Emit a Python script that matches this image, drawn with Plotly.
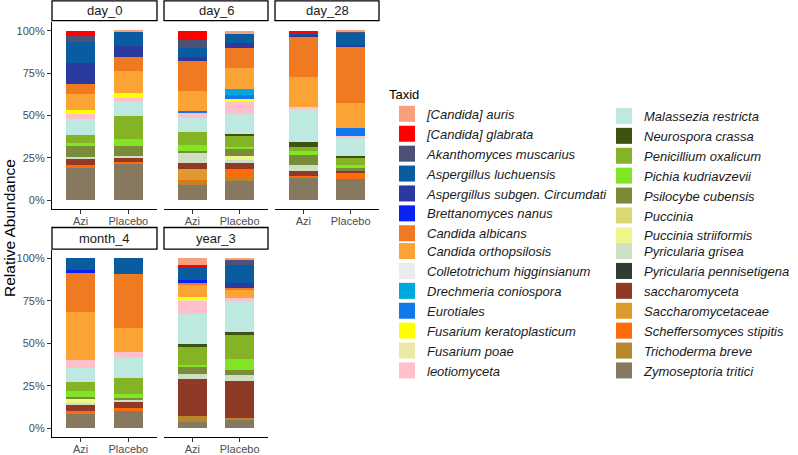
import plotly.graph_objects as go

taxa = ["[Candida] auris", "[Candida] glabrata", "Akanthomyces muscarius",
        "Aspergillus luchuensis", "Aspergillus subgen. Circumdati", "Brettanomyces nanus",
        "Candida albicans", "Candida orthopsilosis", "Colletotrichum higginsianum",
        "Drechmeria coniospora", "Eurotiales", "Fusarium keratoplasticum", "Fusarium poae",
        "leotiomyceta", "Malassezia restricta", "Neurospora crassa", "Penicillium oxalicum",
        "Pichia kudriavzevii", "Psilocybe cubensis", "Puccinia", "Puccinia striiformis",
        "Pyricularia grisea", "Pyricularia pennisetigena", "saccharomyceta",
        "Saccharomycetaceae", "Scheffersomyces stipitis", "Trichoderma breve",
        "Zymoseptoria tritici"]

colors = ["#F8A07E", "#FF0000", "#4B5275", "#0A5CA0", "#2B3A9F", "#0A22F0",
          "#F07A22", "#FCA336", "#EBEBEB", "#00A8E0", "#0F78EA", "#FFFF00", "#EBE9A6",
          "#FFC0CB", "#BDE9E0", "#3D5410", "#84B325", "#82E524", "#7A8C3A", "#DAD873",
          "#EEF58A", "#CFDFC4", "#333A33", "#8E3A26", "#DE9A2E", "#FF6A0A", "#B8862C",
          "#87795F"]

timepoints = ["day_0", "day_6", "day_28", "month_4", "year_3"]
groups = ["Azi", "Placebo"]
y_tickvals = [0, 0.25, 0.5, 0.75, 1.0]
y_ticktext = ["0%", "25%", "50%", "75%", "100%"]

# relative abundance (%) per taxon, in the order of `taxa`
day_0_azi = [0, 3.1, 3.3, 12.7, 12.2, 0, 6.3, 9.4, 0, 0, 0, 2.0, 0, 3.1, 9.4, 0, 4.7, 2.0, 6.3, 0, 0, 1.4, 0, 3.3, 0, 2.0, 0, 18.8]
day_0_placebo = [0.6, 0, 0, 8.4, 6.3, 0, 8.8, 12.9, 0, 0, 0, 2.5, 0, 2.2, 8.8, 0, 13.5, 4.1, 5.9, 0, 0, 1.2, 0, 2.4, 0, 0.8, 0.4, 21.2]
day_6_azi = [0, 5.3, 4.7, 5.7, 2.4, 0, 17.6, 12.0, 0, 0, 1.0, 0, 0, 2.9, 8.0, 0, 8.0, 3.5, 1.2, 0, 0, 5.7, 0, 3.7, 6.5, 0.6, 2.4, 8.8]
day_6_placebo = [2.2, 0, 0, 5.3, 2.5, 0, 12.0, 12.7, 0, 3.1, 2.7, 1.6, 0, 6.9, 12.0, 1.4, 6.3, 1.4, 3.7, 0, 2.7, 1.8, 0, 3.3, 0, 5.1, 2.2, 11.2]
day_28_azi = [0, 1.4, 0, 1.4, 0.6, 0, 23.7, 17.8, 0, 0, 0, 0, 0, 1.0, 20.0, 2.9, 2.2, 2.4, 6.1, 0, 0, 3.5, 0, 2.7, 0, 1.0, 0, 13.3]
day_28_placebo = [0.6, 0, 0.6, 7.1, 1.0, 0, 33.5, 14.5, 0, 0, 5.1, 0, 0, 0.6, 11.2, 0.8, 4.3, 1.8, 1.8, 0, 0, 0, 0, 1.4, 0, 3.5, 0, 12.2]
month_4_azi = [0, 0, 0, 7.1, 0, 1.4, 23.1, 28.0, 0, 0, 0, 0, 0, 4.9, 7.9, 0, 5.5, 3.4, 1.2, 0, 2.4, 1.0, 0, 3.9, 0, 1.0, 0, 8.9]
month_4_placebo = [0, 0, 0, 9.5, 0, 0, 31.4, 14.4, 0, 0, 0, 0, 0, 3.0, 12.2, 0, 9.7, 2.2, 1.4, 0, 0, 1.2, 0, 3.6, 0, 1.4, 0, 10.3]
year_3_azi = [3.9, 0.6, 0, 8.5, 0, 1.8, 0.6, 7.3, 0, 0, 0, 1.4, 0.6, 7.9, 18.1, 1.6, 10.5, 1.4, 4.1, 0, 0, 3.0, 0, 21.9, 0, 0, 3.6, 3.4]
year_3_placebo = [1.2, 0, 2.8, 10.5, 2.8, 0, 1.6, 4.5, 0, 0, 0, 0, 0, 2.0, 18.1, 1.6, 14.2, 6.5, 3.0, 0, 0, 3.4, 0, 22.1, 0, 0, 1.2, 4.7]

panel_data = {
    "day_0": (day_0_azi, day_0_placebo),
    "day_6": (day_6_azi, day_6_placebo),
    "day_28": (day_28_azi, day_28_placebo),
    "month_4": (month_4_azi, month_4_placebo),
    "year_3": (year_3_azi, year_3_placebo),
}

W, H = 798, 455
FONT = "Liberation Sans, Arial, Helvetica, sans-serif"
TICK_GREY = "#4D4D4D"
col_px = [(52, 157), (164, 268), (275, 379)]
row_px = [(22.2, 208.5), (249.7, 436.7)]
strip_px = [(0.8, 20.7), (227.5, 249.2)]
panel_pos = [(0, 0), (0, 1), (0, 2), (1, 0), (1, 1)]


def py(v):
    return 1 - v / H


def norm(vals):
    s = sum(vals)
    return [v / s for v in vals]


fig = go.Figure()
layout = dict()
shapes = []
annotations = []

for i, tp in enumerate(timepoints):
    r, c = panel_pos[i]
    sfx = "" if i == 0 else str(i + 1)
    azi, plc = panel_data[tp]
    azi_n, plc_n = norm(azi), norm(plc)
    for j in reversed(range(len(taxa))):
        fig.add_trace(go.Bar(
            x=groups, y=[azi_n[j], plc_n[j]], name=taxa[j],
            marker=dict(color=colors[j], line=dict(width=0)),
            width=0.6, showlegend=False,
            xaxis="x" + sfx, yaxis="y" + sfx,
        ))
    x0, x1 = col_px[c]
    y0, y1 = row_px[r]
    layout["xaxis" + sfx] = dict(
        domain=[x0 / W, x1 / W], anchor="y" + sfx, type="category",
        categoryorder="array", categoryarray=groups, range=[-0.6, 1.6],
        color=TICK_GREY,
        showline=True, linecolor="black", linewidth=1.1,
        ticks="outside", ticklen=4, tickwidth=1, tickcolor="#333333",
        ticklabelstandoff=-2,
        tickfont=dict(size=11, color=TICK_GREY, family=FONT),
        showgrid=False, zeroline=False, fixedrange=True,
    )
    ydict = dict(
        domain=[py(y1), py(y0)], anchor="x" + sfx, range=[-0.05, 1.05],
        showgrid=False, zeroline=False, fixedrange=True, color=TICK_GREY,
    )
    if c == 0:
        ydict.update(showline=True, linecolor="black", linewidth=1.1,
                     ticks="outside", ticklen=4, tickwidth=1, tickcolor="#333333",
                     tickmode="array", tickvals=y_tickvals, ticktext=y_ticktext,
                     tickfont=dict(size=11, color=TICK_GREY, family=FONT))
    else:
        ydict.update(showline=False, ticks="", showticklabels=False)
    layout["yaxis" + sfx] = ydict

    s0, s1 = strip_px[r]
    shapes.append(dict(type="rect", xref="paper", yref="paper",
                       x0=x0 / W, x1=x1 / W, y0=py(s1), y1=py(s0),
                       line=dict(color="black", width=1.3), fillcolor="white"))
    annotations.append(dict(text=tp, xref="paper", yref="paper",
                            x=(x0 + x1) / 2 / W, y=py((s0 + s1) / 2),
                            showarrow=False, xanchor="center", yanchor="middle",
                            font=dict(size=13, color="#1A1A1A", family=FONT)))

annotations.append(dict(text="Relative Abundance", xref="paper", yref="paper",
                        x=9 / W, y=py(228), textangle=-90, showarrow=False,
                        xanchor="center", yanchor="middle",
                        font=dict(size=15.5, color="black", family=FONT)))

# legend entries (square keys), split over four legend blocks (two columns)
legend_names = ["legend", "legend2", "legend3", "legend4"]
for j, t in enumerate(taxa):
    fig.add_trace(go.Scatter(
        x=[None], y=[None], mode="markers", name="<i>" + t + "</i>",
        marker=dict(symbol="square", size=16, color=colors[j], line=dict(width=0)),
        legend=legend_names[j // 7], showlegend=True,
        xaxis="x", yaxis="y", hoverinfo="skip",
    ))

leg_common = dict(xanchor="left", yanchor="top", bgcolor="rgba(0,0,0,0)",
                  borderwidth=0, itemsizing="trace", tracegroupgap=0,
                  traceorder="normal",
                  font=dict(size=13, color="#1A1A1A", family=FONT),
                  itemclick=False, itemdoubleclick=False)

pitch = 19.3
first_center = 113
layout["legend"] = dict(x=387 / W, y=py(first_center - 31),
                        title=dict(text="Taxid", font=dict(size=13, color="black", family=FONT)),
                        **leg_common)
layout["legend2"] = dict(x=387 / W, y=py(first_center + 7 * pitch - 12), **leg_common)
layout["legend3"] = dict(x=604 / W, y=py(first_center - 12), **leg_common)
layout["legend4"] = dict(x=604 / W, y=py(first_center + 7 * pitch - 12), **leg_common)

fig.update_layout(
    template="none",
    width=W, height=H, margin=dict(l=0, r=0, t=0, b=0),
    barmode="stack", plot_bgcolor="white", paper_bgcolor="white",
    shapes=shapes, annotations=annotations,
    font=dict(family=FONT, color="#1A1A1A"),
    **layout,
)

fig.write_html("out.html", config={"displayModeBar": False},
               post_script="document.body.style.margin='0px';")
